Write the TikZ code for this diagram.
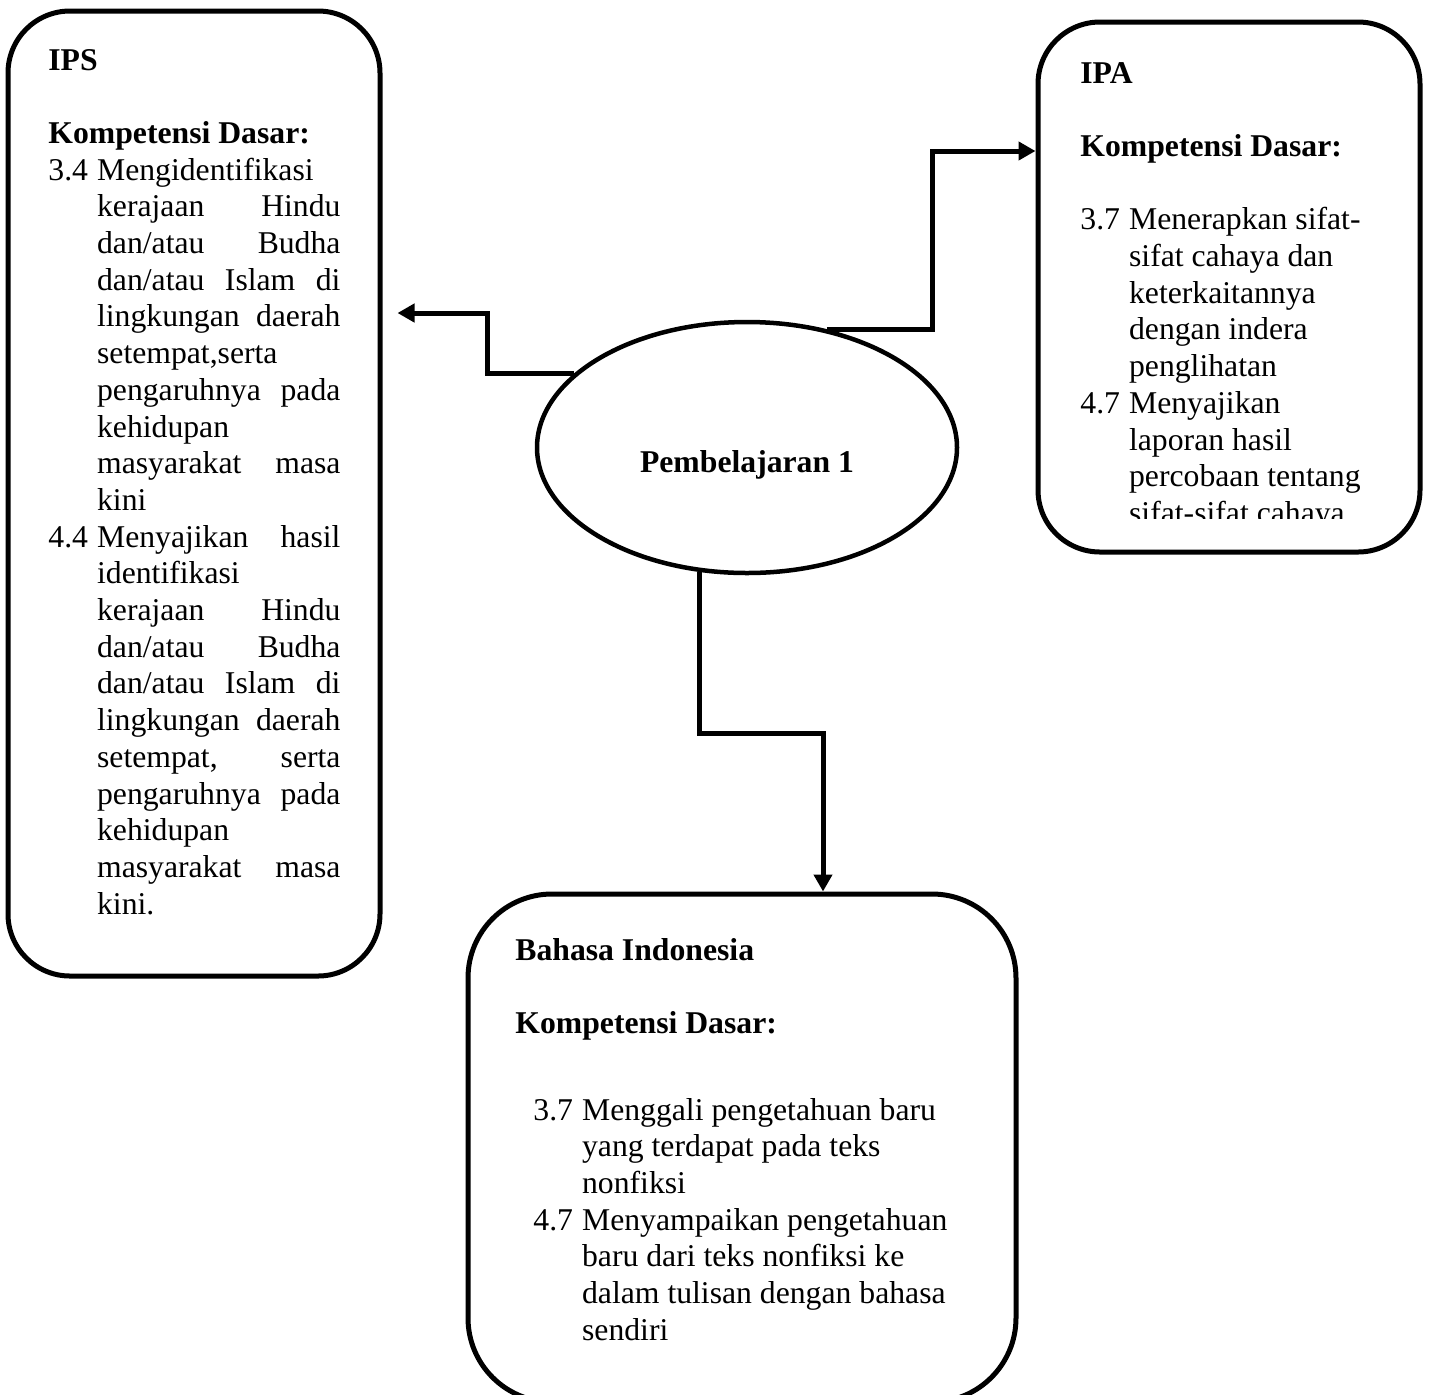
\documentclass[tikz,border=0pt]{standalone}
\usepackage{fontspec}
\setmainfont{Liberation Serif}
\usetikzlibrary{shapes.geometric}
\usetikzlibrary{arrows.meta}

\newcommand{\kdfont}{\fontsize{15.85pt}{18.35pt}\selectfont}
\newcommand{\kdnum}[1]{\makebox[24.35pt][l]{#1}}
\newcommand{\kdind}{\hspace*{24.35pt}}
\newcommand{\kdjust}[1]{\makebox[121.7pt][s]{#1}}

\begin{document}
\begin{tikzpicture}[x=0.5pt, y=-0.5pt,
    kdbox/.style={draw, line width=2.5pt, rounded corners=31pt, inner sep=0pt},
    kdtext/.style={anchor=base west, inner sep=0pt},
    kdarrow/.style={line width=2.5pt, -{Triangle[length=8.5pt,width=9pt]}}]
  \clip (0,0) rectangle (1430,1394);

  % the three subject boxes
  \node[kdbox, minimum width=186pt, minimum height=482.5pt] (ips) at (194,493.5) {};
  \node[kdbox, minimum width=191pt, minimum height=265pt] (ipa) at (1229,287) {};
  \node[kdbox, rounded corners=42pt, minimum width=274pt, minimum height=254pt] (bi) at (742,1148) {};

  % centre
  \node[ellipse, draw, line width=2.25pt, minimum width=210pt, minimum height=125.5pt] (pemb) at (747,447.5) {};
  \node[anchor=base, inner sep=0pt, font=\kdfont\bfseries] (pembtxt) at (747,472) {Pembelajaran 1};

  \node[kdtext] (ipstxt) at (48,70) {\parbox[t]{170pt}{\kdfont
    \textbf{IPS}\\[18.35pt]
    \textbf{Kompetensi Dasar:}\\
    \kdnum{3.4}Mengidentifikasi\\
    \kdind\kdjust{kerajaan Hindu}\\
    \kdind\kdjust{dan/atau Budha}\\
    \kdind\kdjust{dan/atau Islam di}\\
    \kdind\kdjust{lingkungan daerah}\\
    \kdind setempat,serta\\
    \kdind\kdjust{pengaruhnya pada}\\
    \kdind kehidupan\\
    \kdind\kdjust{masyarakat masa}\\
    \kdind kini\\
    \kdnum{4.4}\kdjust{Menyajikan hasil}\\
    \kdind identifikasi\\
    \kdind\kdjust{kerajaan Hindu}\\
    \kdind\kdjust{dan/atau Budha}\\
    \kdind\kdjust{dan/atau Islam di}\\
    \kdind\kdjust{lingkungan daerah}\\
    \kdind\kdjust{setempat, serta}\\
    \kdind\kdjust{pengaruhnya pada}\\
    \kdind kehidupan\\
    \kdind\kdjust{masyarakat masa}\\
    \kdind kini.}};

  % IPA text runs past the box, cut like the original
  \begin{scope}
    \clip (1030,0) rectangle (1430,518);
    \node[kdtext] (ipatxt) at (1080,83) {\parbox[t]{170pt}{\kdfont
      \textbf{IPA}\\[18.35pt]
      \textbf{Kompetensi Dasar:}\\[18.35pt]
      \kdnum{3.7}Menerapkan sifat-\\
      \kdind sifat cahaya dan\\
      \kdind keterkaitannya\\
      \kdind dengan indera\\
      \kdind penglihatan\\
      \kdnum{4.7}Menyajikan\\
      \kdind laporan hasil\\
      \kdind percobaan tentang\\
      \kdind sifat-sifat cahaya}};
  \end{scope}

  \node[kdtext] (bitxt) at (515,960) {\parbox[t]{250pt}{\kdfont
    \textbf{Bahasa Indonesia}\\[18.35pt]
    \textbf{Kompetensi Dasar:}\\[25pt]
    \hspace*{9pt}\kdnum{3.7}Menggali pengetahuan baru\\
    \hspace*{9pt}\kdind yang terdapat pada teks\\
    \hspace*{9pt}\kdind nonfiksi\\
    \hspace*{9pt}\kdnum{4.7}Menyampaikan pengetahuan\\
    \hspace*{9pt}\kdind baru dari teks nonfiksi ke\\
    \hspace*{9pt}\kdind dalam tulisan dengan bahasa\\
    \hspace*{9pt}\kdind sendiri}};

  % connectors
  \coordinate (ipsin) at ([xshift=7.5pt,yshift=90.25pt]ips.east);
  \coordinate (ipain) at ([yshift=68pt]ipa.west);
  \coordinate (biin) at ([xshift=40.5pt]bi.north);

  \draw[kdarrow] (pemb.157) -| (487,313) -- (ipsin);
  \draw[kdarrow] (pemb.56) -| (932,151) -- (ipain);
  \draw[kdarrow] (pemb.249) |- (823,733) -- (biin);
\end{tikzpicture}
\end{document}
